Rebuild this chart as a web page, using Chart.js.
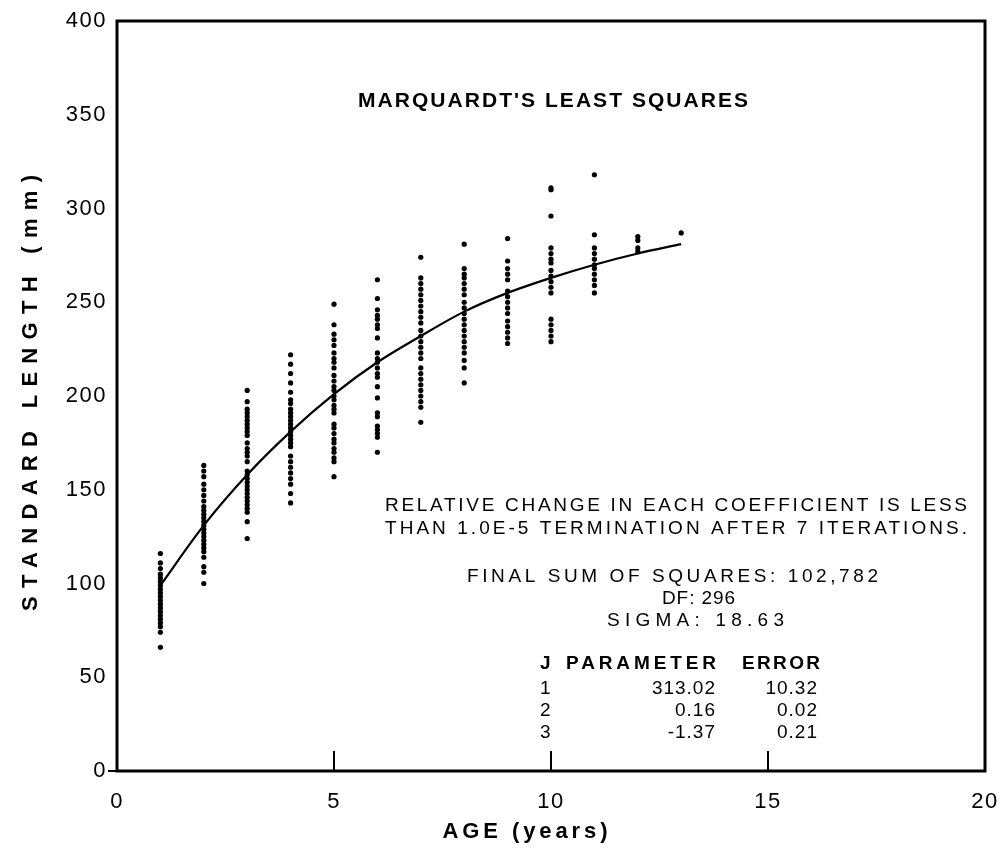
<!DOCTYPE html>
<html>
<head>
<meta charset="utf-8">
<script src="https://cdn.jsdelivr.net/npm/chart.js@4"></script>
<style>
  html, body { margin: 0; background: #fff; }
  #wrap { width: 1003px; height: 854px; }
</style>
</head>
<body>
<div id="wrap"><canvas id="grafico"></canvas></div>
<script>
// Observed standard lengths (mm) by age (years)
const age1 = [116, 111, 108, 105, 103, 101, 99, 97, 95, 93, 91, 89, 87, 85, 83, 81, 79, 77, 74, 66];
const age2 = [163, 160, 157, 153, 150, 147, 144, 141, 139, 137, 135, 133, 131, 129, 127, 125, 123, 121, 119, 117, 114, 109, 106, 100];
const age3 = [203, 197, 193, 191, 189, 187, 185, 183, 181, 179, 175, 172, 170, 168, 165, 160, 158, 156, 154, 152, 150, 148, 146, 144, 142, 140, 138, 133, 124];
const age4 = [222, 217, 212, 207, 202, 198, 196, 193, 191, 189, 187, 185, 183, 181, 179, 177, 175, 173, 168, 165, 162, 159, 156, 153, 148, 143];
const age5 = [249, 238, 233, 230, 227, 223, 220, 218, 215, 211, 208, 205, 203, 200, 198, 195, 193, 191, 185, 183, 180, 177, 175, 172, 170, 167, 165, 157];
const age6 = [262, 252, 246, 243, 241, 238, 236, 231, 223, 220, 218, 215, 212, 210, 205, 199, 191, 189, 184, 182, 180, 178, 170];
const age7 = [274, 263, 260, 257, 254, 251, 248, 245, 242, 239, 235, 232, 229, 226, 223, 220, 215, 212, 209, 206, 203, 200, 197, 194, 186];
const age8 = [281, 268, 265, 263, 260, 257, 254, 250, 247, 244, 241, 238, 235, 232, 229, 226, 223, 219, 215, 207];
const age9 = [284, 272, 268, 265, 262, 256, 253, 250, 247, 244, 240, 237, 234, 231, 228];
const age10 = [311, 310, 296, 279, 276, 273, 271, 267, 264, 261, 258, 255, 241, 238, 235, 232, 229];
const age11 = [318, 286, 279, 276, 273, 270, 268, 265, 262, 259, 255];
const age12 = [285, 283, 279, 277];
const age13 = [287];

const ageGroups = [age1, age2, age3, age4, age5, age6, age7, age8, age9, age10, age11, age12, age13];

// Fitted growth curve, read at each whole year
const curveAges = [1, 2, 3, 4, 5, 6, 7, 8, 9, 10, 11, 12, 13];
const curveLengths = [99, 131, 158, 181, 201, 218, 232, 245, 255, 263, 270, 276, 281];

const xTicks = [0, 5, 10, 15, 20];
const yTicks = [0, 50, 100, 150, 200, 250, 300, 350, 400];

const puntos = [];
ageGroups.forEach((grupo, i) => {
  grupo.forEach((v) => puntos.push({ x: i + 1, y: v }));
});
const curva = curveAges.map((a, i) => ({ x: a, y: curveLengths[i] }));

const FUENTE = '"Liberation Sans", Arial, sans-serif';

// draws text stretched to a given width with letter spacing
function textoAjustado(ctx, texto, x, y, ancho, font, align) {
  ctx.font = font;
  ctx.letterSpacing = "0px";
  const w = ctx.measureText(texto).width;
  const n = texto.length;
  let esp = n > 1 && ancho ? (ancho - w) / (n - 1) : 0;
  if (esp < 0) esp = 0;
  ctx.letterSpacing = esp + "px";
  const total = w + esp * (n - 1);
  let x0 = x;
  if (align === "right") x0 = x - total;
  if (align === "center") x0 = x - total / 2;
  ctx.textAlign = "left";
  ctx.fillText(texto, x0, y);
  ctx.letterSpacing = "0px";
}

const marco = {
  id: "marco",
  beforeDraw(chart) {
    chart.ctx.letterSpacing = "1.5px";
  },
  afterDraw(chart) {
    const ctx = chart.ctx;
    const a = chart.chartArea;
    const sx = chart.scales.x;
    ctx.save();
    ctx.letterSpacing = "0px";
    ctx.strokeStyle = "#000";
    ctx.lineWidth = 3;
    ctx.strokeRect(a.left, a.top, a.right - a.left, a.bottom - a.top);

    // inner ticks along the age axis
    ctx.lineWidth = 2;
    [5, 10, 15].forEach((v) => {
      const px = sx.getPixelForValue(v);
      ctx.beginPath();
      ctx.moveTo(px, a.bottom);
      ctx.lineTo(px, a.bottom - 20);
      ctx.stroke();
    });
    // small stub at the origin
    ctx.beginPath();
    ctx.moveTo(a.left - 9, a.bottom);
    ctx.lineTo(a.left, a.bottom);
    ctx.stroke();

    ctx.fillStyle = "#000";
    ctx.textBaseline = "middle";

    // axis titles
    const bold22 = "bold 22px " + FUENTE;
    textoAjustado(ctx, "AGE (years)", 525, 832, 165, bold22, "center");
    ctx.save();
    ctx.translate(31, 393);
    ctx.rotate(-Math.PI / 2);
    textoAjustado(ctx, "STANDARD LENGTH (mm)", 0, 0, 436, bold22, "center");
    ctx.restore();

    // title
    textoAjustado(ctx, "MARQUARDT'S LEAST SQUARES", 553, 101, 390, "bold 21px " + FUENTE, "center");

    // notes
    const reg = "19px " + FUENTE;
    textoAjustado(ctx, "RELATIVE CHANGE IN EACH COEFFICIENT IS LESS", 385, 506, 582, reg, "left");
    textoAjustado(ctx, "THAN 1.0E-5 TERMINATION AFTER 7 ITERATIONS.", 385, 529, 582, reg, "left");

    textoAjustado(ctx, "FINAL SUM OF SQUARES: 102,782", 467, 577, 411, reg, "left");
    textoAjustado(ctx, "DF: 296", 662, 599, 73, reg, "left");
    textoAjustado(ctx, "SIGMA: 18.63", 607, 621, 177, reg, "left");

    const boldTab = "bold 19px " + FUENTE;
    textoAjustado(ctx, "J", 540, 664, 0, boldTab, "left");
    textoAjustado(ctx, "PARAMETER", 566, 664, 150, boldTab, "left");
    textoAjustado(ctx, "ERROR", 742, 664, 78, boldTab, "left");

    const filas = [["1", "313.02", "10.32"], ["2", "0.16", "0.02"], ["3", "-1.37", "0.21"]];
    filas.forEach((f, i) => {
      const y = 689 + i * 22;
      ctx.font = reg;
      ctx.letterSpacing = "1px";
      ctx.textAlign = "left";
      ctx.fillText(f[0], 540, y);
      ctx.textAlign = "right";
      ctx.fillText(f[1], 716, y);
      ctx.fillText(f[2], 818, y);
    });
    ctx.restore();
  }
};

new Chart(document.getElementById("grafico"), {
  type: "scatter",
  data: {
    datasets: [
      {
        type: "scatter",
        label: "Observed",
        data: puntos,
        backgroundColor: "#000",
        borderColor: "#000",
        pointRadius: 2.6,
        pointBorderWidth: 0,
      },
      {
        type: "line",
        label: "Fitted",
        data: curva,
        borderColor: "#000",
        borderWidth: 2.2,
        pointRadius: 0,
        fill: false,
        cubicInterpolationMode: "monotone",
      },
    ],
  },
  options: {
    responsive: true,
    maintainAspectRatio: false,
    animation: false,
    devicePixelRatio: 1,
    layout: { padding: { top: 21, right: 18, left: 0, bottom: 0 } },
    plugins: {
      legend: { display: false },
      tooltip: { enabled: false },
    },
    scales: {
      x: {
        type: "linear",
        min: 0,
        max: 20,
        afterBuildTicks: (s) => { s.ticks = xTicks.map((v) => ({ value: v })); },
        afterFit: (s) => {
          s.height = 83;
          s.paddingRight = 0;
          s.paddingLeft = 0;
        },
        grid: { display: false, drawTicks: false },
        border: { display: false },
        ticks: {
          color: "#000",
          padding: 18,
          font: { family: FUENTE, size: 22 },
        },
      },
      y: {
        type: "linear",
        min: 0,
        max: 400,
        afterBuildTicks: (s) => { s.ticks = yTicks.map((v) => ({ value: v })); },
        afterFit: (s) => {
          s.width = 117;
          s.paddingTop = 0;
          s.paddingBottom = 0;
        },
        grid: { display: false, drawTicks: false },
        border: { display: false },
        ticks: {
          color: "#000",
          padding: 10,
          font: { family: FUENTE, size: 22 },
        },
      },
    },
  },
  plugins: [marco],
});
</script>
</body>
</html>
